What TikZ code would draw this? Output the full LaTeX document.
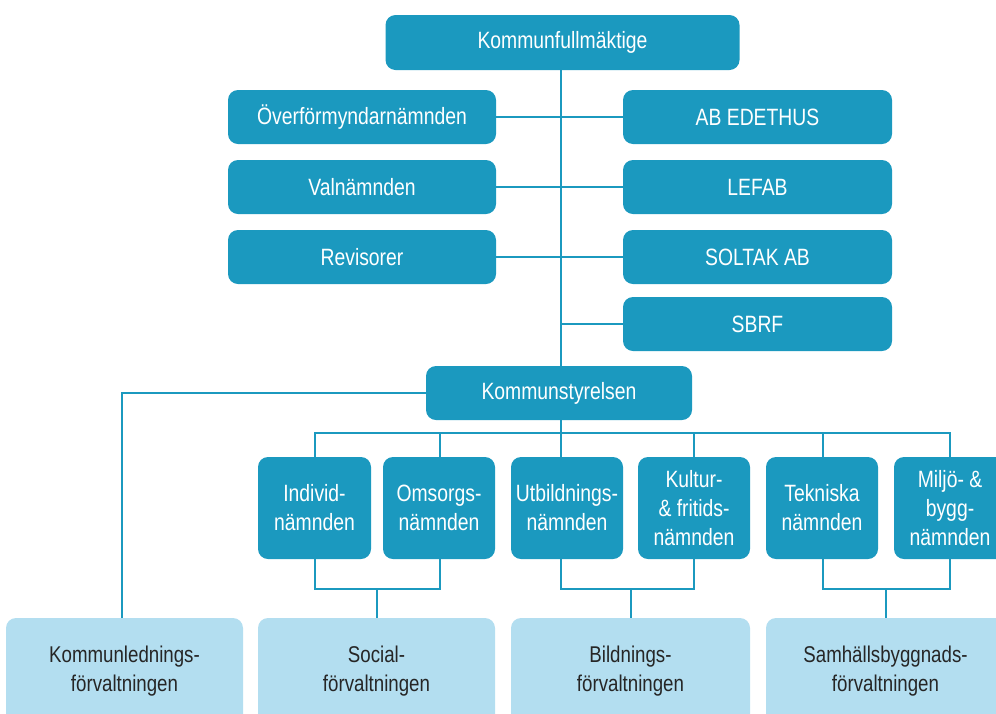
\documentclass[tikz,border=0pt]{standalone}
\usepackage{fontspec}
\setmainfont{Liberation Sans}[FakeStretch=0.82]
\definecolor{dteal}{HTML}{1B99BF}
\definecolor{lblue}{HTML}{B3DEF0}
\tikzset{
  dbox/.style={fill=dteal, rounded corners=10pt, text=white, align=center, inner sep=0pt,
    font=\fontsize{23.6}{29}\selectfont},
  lbox/.style={fill=lblue, rounded corners=10pt, text=black!85, align=center, inner sep=0pt,
    font=\fontsize{22.8}{29}\selectfont},
  conn/.style={draw=dteal, line width=2pt}
}
\begin{document}
\begin{tikzpicture}[x=1pt,y=-1pt]
\useasboundingbox (0,0) rectangle (996,713);
\clip (0,0) rectangle (996,713);
% top
\node[dbox, minimum width=354pt, minimum height=55pt] (kf) at (562.5,42.5) {Kommunfullmäktige};
\node[dbox, minimum width=268pt, minimum height=54pt] (ov) at (362,117) {Överförmyndarnämnden};
\node[dbox, minimum width=268pt, minimum height=54pt] (val) at (362,187) {Valnämnden};
\node[dbox, minimum width=268pt, minimum height=54pt] (rev) at (362,257) {Revisorer};
\node[dbox, minimum width=269pt, minimum height=54pt] (ab) at (757.5,117) {AB EDETHUS};
\node[dbox, minimum width=269pt, minimum height=54pt] (lef) at (757.5,187) {LEFAB};
\node[dbox, minimum width=269pt, minimum height=54pt] (sol) at (757.5,257) {SOLTAK AB};
\node[dbox, minimum width=269pt, minimum height=54pt] (sbrf) at (757.5,324) {SBRF};
\node[dbox, minimum width=266pt, minimum height=54pt] (ks) at (559,393) {Kommunstyrelsen};
% nämnder
\node[dbox, minimum width=113pt, minimum height=102pt] (ind) at (314.5,508) {Individ-\\nämnden};
\node[dbox, minimum width=112pt, minimum height=102pt] (oms) at (439,508) {Omsorgs-\\nämnden};
\node[dbox, minimum width=112pt, minimum height=102pt] (utb) at (567,508) {Utbildnings-\\nämnden};
\node[dbox, minimum width=112pt, minimum height=102pt] (kul) at (694,508) {Kultur-\\\& fritids-\\nämnden};
\node[dbox, minimum width=112pt, minimum height=102pt] (tek) at (822,508) {Tekniska\\nämnden};
\node[dbox, minimum width=112pt, minimum height=102pt] (mil) at (950,508) {Miljö- \&\\bygg-\\nämnden};
% förvaltningar
\node[lbox, minimum width=237pt, minimum height=106pt] (kl) at (124.5,671) {Kommunlednings-\\förvaltningen};
\node[lbox, minimum width=237pt, minimum height=106pt] (soc) at (376.5,671) {Social-\\förvaltningen};
\node[lbox, minimum width=239pt, minimum height=106pt] (bil) at (630.5,671) {Bildnings-\\förvaltningen};
\node[lbox, minimum width=239pt, minimum height=106pt] (sam) at (885.5,671) {Samhällsbyggnads-\\förvaltningen};
% coordinates
\coordinate (spine) at (561,0);
\coordinate (bus) at (0,433);
\coordinate (br) at (0,589);
% connectors
\draw[conn] (kf.south -| spine) -- (ks.north -| spine);
\draw[conn] (ov.east) -- (ab.west);
\draw[conn] (val.east) -- (lef.west);
\draw[conn] (rev.east) -- (sol.west);
\draw[conn] (sbrf.west) -- (sbrf.west -| spine);
\draw[conn] (ks.west) -| ([xshift=-3pt]kl.north);
\draw[conn] (ks.south -| spine) -- (bus -| spine);
\draw[conn] (ind.north) -- (ind.north |- bus) -- (mil.north |- bus) -- (mil.north);
\draw[conn] ([xshift=1pt]oms.north) -- ([xshift=1pt]oms.north |- bus);
\draw[conn] ([xshift=-6pt]utb.north) -- ([xshift=-6pt]utb.north |- bus);
\draw[conn] (kul.north) -- (kul.north |- bus);
\draw[conn] ([xshift=1pt]tek.north) -- ([xshift=1pt]tek.north |- bus);
\draw[conn] (ind.south) -- (ind.south |- br) -- ([xshift=1pt]oms.south |- br) -- ([xshift=1pt]oms.south);
\draw[conn] (soc.north) -- (soc.north |- br);
\draw[conn] ([xshift=-6pt]utb.south) -- ([xshift=-6pt]utb.south |- br) -- (kul.south |- br) -- (kul.south);
\draw[conn] (bil.north) -- (bil.north |- br);
\draw[conn] ([xshift=1pt]tek.south) -- ([xshift=1pt]tek.south |- br) -- (mil.south |- br) -- (mil.south);
\draw[conn] (sam.north) -- (sam.north |- br);
\end{tikzpicture}
\end{document}
